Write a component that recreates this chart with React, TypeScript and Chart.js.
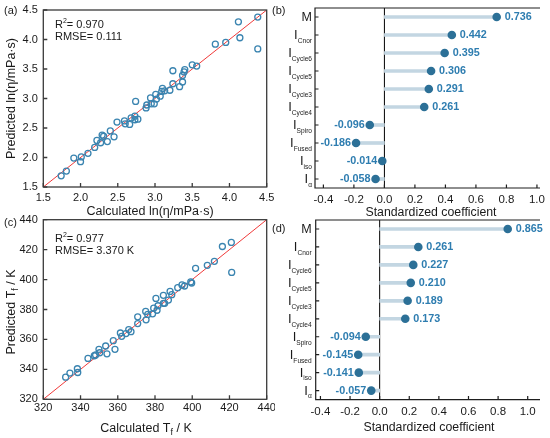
import React, { useEffect, useRef } from 'react';
import { Chart, registerables } from 'chart.js';

Chart.register(...registerables);

const FONT = '"Liberation Sans", Arial, Helvetica, sans-serif';

// ---------- DATA ----------
// (a) viscosity ln(eta / mPa·s): calculated vs predicted
const etaCalculated = [1.74, 1.81, 1.91, 2.0, 2.01, 2.1, 2.19, 2.22, 2.27, 2.29, 2.31, 2.36, 2.4, 2.45, 2.49, 2.59, 2.6, 2.66, 2.68, 2.73, 2.73, 2.74, 2.77, 2.88, 2.89, 2.94, 2.95, 2.99, 3.01, 3.02, 3.07, 3.09, 3.1, 3.13, 3.2, 3.24, 3.24, 3.33, 3.37, 3.37, 3.39, 3.4, 3.5, 3.56, 3.81, 3.95, 4.12, 4.14, 4.38, 4.38];
const etaPredicted = [1.69, 1.77, 1.99, 1.93, 2.01, 2.07, 2.17, 2.29, 2.25, 2.38, 2.36, 2.27, 2.45, 2.35, 2.6, 2.62, 2.57, 2.56, 2.67, 2.64, 2.7, 2.95, 2.65, 2.84, 2.89, 3.01, 2.91, 2.91, 3.07, 2.99, 3.04, 3.12, 3.17, 3.13, 3.14, 3.47, 3.25, 3.2, 3.39, 3.28, 3.45, 3.49, 3.57, 3.55, 3.92, 3.95, 4.3, 4.03, 4.38, 3.84];
const etaAxisRange = [1.5, 4.5];
const etaStats = ['0.970', '0.111'];

// (c) Tf / K: calculated vs predicted
const tfCalculated = [332.0, 334.3, 338.3, 338.5, 344.0, 347.4, 348.1, 349.9, 350.3, 353.5, 354.2, 357.6, 358.5, 361.4, 362.1, 364.4, 365.9, 367.1, 370.7, 370.7, 375.0, 375.2, 376.1, 378.7, 379.3, 380.5, 381.1, 381.6, 384.5, 384.5, 385.2, 387.2, 388.1, 389.0, 392.2, 394.5, 395.9, 399.2, 399.7, 401.8, 408.1, 411.9, 416.2, 421.0, 421.2];
const tfPredicted = [334.8, 337.5, 340.4, 337.9, 347.3, 349.1, 349.6, 353.4, 351.1, 355.6, 350.4, 359.2, 353.4, 364.3, 362.1, 363.9, 366.6, 365.2, 375.1, 370.6, 378.7, 373.1, 376.7, 377.1, 380.9, 387.4, 379.5, 382.5, 384.1, 389.5, 384.1, 386.3, 392.1, 389.9, 394.6, 396.4, 395.7, 398.4, 397.7, 407.5, 409.5, 412.2, 422.1, 424.8, 404.8];
const tfAxisRange = [320, 440];
const tfStats = ['0.977', '3.370 K'];

// (b), (d) standardized coefficients
const coefLabels = ['M', 'I_Cnor', 'I_Cycle6', 'I_Cycle5', 'I_Cycle3', 'I_Cycle4', 'I_Spiro', 'I_Fused', 'I_iso', 'I_α'];
const etaCoefficients = [0.736, 0.442, 0.395, 0.306, 0.291, 0.261, -0.096, -0.186, -0.014, -0.058];
const tfCoefficients = [0.865, 0.261, 0.227, 0.21, 0.189, 0.173, -0.094, -0.145, -0.141, -0.057];
const coefTicks = [-0.4, -0.2, 0.0, 0.2, 0.4, 0.6, 0.8, 1.0];

// ---------- STYLE ----------
const TEXT = '#1a1a1a';
const FRAME = '#3a3a3a';
const POINT = '#3a84b0';
const RED = '#f03a3a';
const STEM = '#c3d6e2';
const DOT = '#2c7097';
const VAL = '#2e7db0';

type Seg = { t: string; size: number; dy?: number; weight?: string; color?: string };

function segFont(s: Seg) {
  return `${s.weight || 'normal'} ${s.size}px ${FONT}`;
}
function richWidth(ctx: CanvasRenderingContext2D, segs: Seg[]) {
  let w = 0;
  for (const s of segs) {
    ctx.font = segFont(s);
    w += ctx.measureText(s.t).width;
  }
  return w;
}
function drawRich(ctx: CanvasRenderingContext2D, segs: Seg[], x: number, y: number, align: 'left' | 'center' | 'right') {
  const w = richWidth(ctx, segs);
  let cx = align === 'left' ? x : align === 'center' ? x - w / 2 : x - w;
  ctx.textAlign = 'left';
  ctx.textBaseline = 'alphabetic';
  for (const s of segs) {
    ctx.font = segFont(s);
    if (s.color) ctx.fillStyle = s.color;
    ctx.fillText(s.t, cx, y + (s.dy || 0));
    cx += ctx.measureText(s.t).width;
  }
}
function drawRotated(ctx: CanvasRenderingContext2D, segs: Seg[], cx: number, cy: number) {
  ctx.save();
  ctx.translate(cx, cy);
  ctx.rotate(-Math.PI / 2);
  drawRich(ctx, segs, 0, 0.358 * segs[0].size, 'center');
  ctx.restore();
}

type Panel = {
  left: number; top: number; w: number; h: number;
  area: { l: number; r: number; t: number; b: number };
};

function zeroPad(s: any) {
  s.paddingTop = 0; s.paddingBottom = 0; s.paddingLeft = 0; s.paddingRight = 0;
}

// ---------- SCATTER PANELS ----------
type ScatterSpec = {
  panel: Panel; xs: number[]; ys: number[]; range: number[]; step: number; decimals: number;
  letter: string; stats: string[]; xTitle: Seg[]; yTitle: Seg[];
  letterY: number; r2Y: number; rmseY: number; yTitleC: [number, number]; xTitleC: [number, number];
  labelPad: number;
};

function scatterConfig(sp: ScatterSpec): any {
  const p = sp.panel;
  const pts = sp.xs.map((x, i) => ({ x, y: sp.ys[i] }));
  const diag = [{ x: sp.range[0], y: sp.range[0] }, { x: sp.range[1], y: sp.range[1] }];
  const deco = {
    id: 'deco',
    afterDraw(chart: any) {
      const ctx: CanvasRenderingContext2D = chart.ctx;
      const { left, right, top, bottom } = chart.chartArea;
      ctx.save();
      ctx.strokeStyle = FRAME;
      ctx.lineWidth = 1.3;
      ctx.strokeRect(left, top, right - left, bottom - top);
      const xs = chart.scales.x, ys = chart.scales.y;
      ctx.beginPath();
      xs.ticks.forEach((_t: any, i: number) => {
        const px = xs.getPixelForTick(i);
        ctx.moveTo(px, bottom); ctx.lineTo(px, bottom - 4);
      });
      ys.ticks.forEach((_t: any, i: number) => {
        const py = ys.getPixelForTick(i);
        ctx.moveTo(left, py); ctx.lineTo(left + 4, py);
      });
      ctx.stroke();
      ctx.translate(-p.left, -p.top);
      ctx.fillStyle = TEXT;
      drawRich(ctx, [{ t: sp.letter, size: 11 }], 4, sp.letterY, 'left');
      drawRich(ctx, [{ t: 'R', size: 11 }, { t: '2', size: 7, dy: -5 }, { t: '= ' + sp.stats[0], size: 11 }], 55, sp.r2Y, 'left');
      drawRich(ctx, [{ t: 'RMSE= ' + sp.stats[1], size: 11 }], 55, sp.rmseY, 'left');
      drawRotated(ctx, sp.yTitle, sp.yTitleC[0], sp.yTitleC[1]);
      drawRich(ctx, sp.xTitle, sp.xTitleC[0], sp.xTitleC[1], 'center');
      ctx.restore();
    },
  };
  const tickOpts = {
    stepSize: sp.step,
    autoSkip: false,
    maxRotation: 0,
    color: TEXT,
    font: { family: FONT, size: 11 },
    callback: (v: any) => Number(v).toFixed(sp.decimals),
  };
  return {
    type: 'scatter',
    data: {
      datasets: [
        { data: pts, pointRadius: 3, pointBorderWidth: 1.3, borderColor: POINT, backgroundColor: 'rgba(0,0,0,0)', pointBackgroundColor: 'rgba(0,0,0,0)', order: 1 },
        { data: diag, showLine: true, borderColor: RED, borderWidth: 1, pointRadius: 0, order: 2 },
      ],
    },
    options: {
      responsive: false,
      maintainAspectRatio: false,
      animation: false,
      events: [],
      layout: { padding: { left: 0, right: p.w - p.area.r, top: p.area.t, bottom: 0 } },
      plugins: { legend: { display: false }, tooltip: { enabled: false } },
      scales: {
        x: {
          type: 'linear', min: sp.range[0], max: sp.range[1],
          ticks: { ...tickOpts, padding: sp.labelPad },
          grid: { display: false, drawTicks: false },
          border: { display: false },
          afterFit(s: any) { s.height = p.h - p.area.b; zeroPad(s); },
        },
        y: {
          type: 'linear', min: sp.range[0], max: sp.range[1],
          ticks: { ...tickOpts, padding: 5.5 },
          grid: { display: false, drawTicks: false },
          border: { display: false },
          afterFit(s: any) { s.width = p.area.l; zeroPad(s); },
        },
      },
    },
    plugins: [deco],
  };
}

// ---------- LOLLIPOP PANELS ----------
type LolliSpec = {
  panel: Panel; values: number[]; min: number; max: number; letter: string;
  letterY: number; xTitleC: [number, number]; labelGap: number;
};

function lollipopConfig(sp: LolliSpec): any {
  const p = sp.panel;
  const deco = {
    id: 'deco',
    beforeDatasetsDraw(chart: any) {
      const ctx: CanvasRenderingContext2D = chart.ctx;
      const { top, bottom } = chart.chartArea;
      const x0 = chart.scales.x.getPixelForValue(0);
      ctx.save();
      ctx.strokeStyle = '#000';
      ctx.lineWidth = 1;
      ctx.beginPath();
      ctx.moveTo(x0, top); ctx.lineTo(x0, bottom);
      ctx.stroke();
      ctx.restore();
    },
    afterDatasetsDraw(chart: any) {
      const ctx: CanvasRenderingContext2D = chart.ctx;
      const meta = chart.getDatasetMeta(1);
      ctx.save();
      meta.data.forEach((pt: any, i: number) => {
        const v = sp.values[i];
        const txt = v.toFixed(3);
        ctx.font = `bold 10.8px ${FONT}`;
        ctx.fillStyle = VAL;
        ctx.textBaseline = 'middle';
        if (v >= 0) {
          ctx.textAlign = 'left';
          ctx.fillText(txt, pt.x + 8, pt.y + 0.5);
        } else {
          ctx.textAlign = 'right';
          ctx.fillText(txt, pt.x - 5, pt.y + 0.5);
        }
      });
      ctx.restore();
    },
    afterDraw(chart: any) {
      const ctx: CanvasRenderingContext2D = chart.ctx;
      const { left, right, top, bottom } = chart.chartArea;
      const xs = chart.scales.x, ys = chart.scales.y;
      ctx.save();
      ctx.strokeStyle = '#1e1e1e';
      ctx.lineWidth = 1.2;
      ctx.beginPath();
      ctx.moveTo(right, top); ctx.lineTo(left, top); ctx.lineTo(left, bottom); ctx.lineTo(right, bottom);
      xs.ticks.forEach((t: any) => {
        const px = xs.getPixelForValue(t.value);
        ctx.moveTo(px, bottom); ctx.lineTo(px, bottom - 3.5);
      });
      ys.ticks.forEach((_t: any, i: number) => {
        const py = ys.getPixelForTick(i);
        ctx.moveTo(left, py); ctx.lineTo(left + 3.5, py);
      });
      ctx.stroke();
      // category labels
      ctx.fillStyle = TEXT;
      coefLabels.forEach((lab, i) => {
        const py = ys.getPixelForTick(i);
        const xr = left - sp.labelGap;
        if (lab.startsWith('I_')) {
          drawRich(ctx, [{ t: 'I', size: 13 }, { t: lab.slice(2), size: 6.6, dy: 3.4 }], xr, py + 4.4, 'right');
        } else {
          drawRich(ctx, [{ t: lab, size: 12.5 }], xr, py + 4.4, 'right');
        }
      });
      ctx.translate(-p.left, -p.top);
      drawRich(ctx, [{ t: sp.letter, size: 11 }], 272, sp.letterY, 'left');
      drawRich(ctx, [{ t: 'Standardized coefficient', size: 12.3 }], sp.xTitleC[0], sp.xTitleC[1], 'center');
      ctx.restore();
    },
  };
  return {
    type: 'bar',
    data: {
      labels: coefLabels,
      datasets: [
        { type: 'bar', indexAxis: 'y', data: sp.values, backgroundColor: STEM, barThickness: 3, order: 2 },
        { type: 'line', indexAxis: 'y', data: sp.values, showLine: false, pointRadius: 4.3, pointBorderWidth: 0, pointBackgroundColor: DOT, borderColor: DOT, backgroundColor: DOT, order: 1 },
      ],
    },
    options: {
      indexAxis: 'y',
      responsive: false,
      maintainAspectRatio: false,
      animation: false,
      events: [],
      layout: { padding: { left: 0, right: p.w - p.area.r, top: p.area.t, bottom: 0 } },
      plugins: { legend: { display: false }, tooltip: { enabled: false } },
      scales: {
        x: {
          type: 'linear', min: sp.min, max: sp.max,
          afterBuildTicks(s: any) { s.ticks = coefTicks.map((v) => ({ value: v })); },
          ticks: {
            autoSkip: false, maxRotation: 0, color: TEXT, padding: 5,
            font: { family: FONT, size: 11.5 },
            callback: (v: any) => Number(v).toFixed(1),
          },
          grid: { display: false, drawTicks: false },
          border: { display: false },
          afterFit(s: any) { s.height = p.h - p.area.b; zeroPad(s); },
        },
        y: {
          type: 'category',
          ticks: { display: false },
          grid: { display: false, drawTicks: false },
          border: { display: false },
          afterFit(s: any) { s.width = p.area.l; zeroPad(s); },
        },
      },
    },
    plugins: [deco],
  };
}

// ---------- PANELS ----------
const panelA: Panel = { left: 0, top: 0, w: 275, h: 218, area: { l: 43.3, r: 266.7, t: 10, b: 187 } };
const panelB: Panel = { left: 270, top: 0, w: 280, h: 218, area: { l: 45, r: 270, t: 8, b: 188 } };
const panelC: Panel = { left: 0, top: 200, w: 275, h: 238, area: { l: 43.3, r: 266.7, t: 19.7, b: 199.3 } };
const panelD: Panel = { left: 270, top: 200, w: 280, h: 238, area: { l: 45.7, r: 270, t: 20, b: 199.6 } };

const TITLE = 12.5;

const makeA = () => scatterConfig({
  panel: panelA, xs: etaCalculated, ys: etaPredicted, range: etaAxisRange, step: 0.5, decimals: 1,
  letter: '(a)', stats: etaStats,
  xTitle: [{ t: 'Calculated ln(η/mPa·s)', size: TITLE }],
  yTitle: [{ t: 'Predicted ln(η/mPa·s)', size: TITLE }],
  letterY: 14, r2Y: 27.5, rmseY: 40, yTitleC: [11, 98.5], xTitleC: [150, 214.5], labelPad: 4.5,
});
const makeC = () => scatterConfig({
  panel: panelC, xs: tfCalculated, ys: tfPredicted, range: tfAxisRange, step: 20, decimals: 0,
  letter: '(c)', stats: tfStats,
  xTitle: [{ t: 'Calculated T', size: TITLE }, { t: 'f', size: 9, dy: 3 }, { t: ' / K', size: TITLE }],
  yTitle: [{ t: 'Predicted T', size: TITLE }, { t: 'f', size: 9, dy: 3 }, { t: ' / K', size: TITLE }],
  letterY: 226, r2Y: 241.5, rmseY: 254, yTitleC: [11, 312], xTitleC: [146, 432], labelPad: 2,
});
const makeB = () => lollipopConfig({
  panel: panelB, values: etaCoefficients, min: -0.455, max: 1.02, letter: '(b)',
  letterY: 14, xTitleC: [431, 215.5], labelGap: 3,
});
const makeD = () => lollipopConfig({
  panel: panelD, values: tfCoefficients, min: -0.432, max: 1.083, letter: '(d)',
  letterY: 232, xTitleC: [429, 430.5], labelGap: 4,
});

function ChartCanvas({ panel, make }: { panel: Panel; make: () => any }) {
  const ref = useRef<HTMLCanvasElement>(null);
  useEffect(() => {
    const chart = new Chart(ref.current as HTMLCanvasElement, make());
    return () => chart.destroy();
  }, []);
  return (
    <canvas
      ref={ref}
      width={panel.w}
      height={panel.h}
      style={{ position: 'absolute', left: panel.left, top: panel.top, width: panel.w, height: panel.h }}
    />
  );
}

export default function App() {
  return (
    <div style={{ position: 'absolute', left: 0, top: 0, width: 550, height: 438, background: '#fff', overflow: 'hidden' }}>
      <ChartCanvas panel={panelA} make={makeA} />
      <ChartCanvas panel={panelB} make={makeB} />
      <ChartCanvas panel={panelC} make={makeC} />
      <ChartCanvas panel={panelD} make={makeD} />
    </div>
  );
}
